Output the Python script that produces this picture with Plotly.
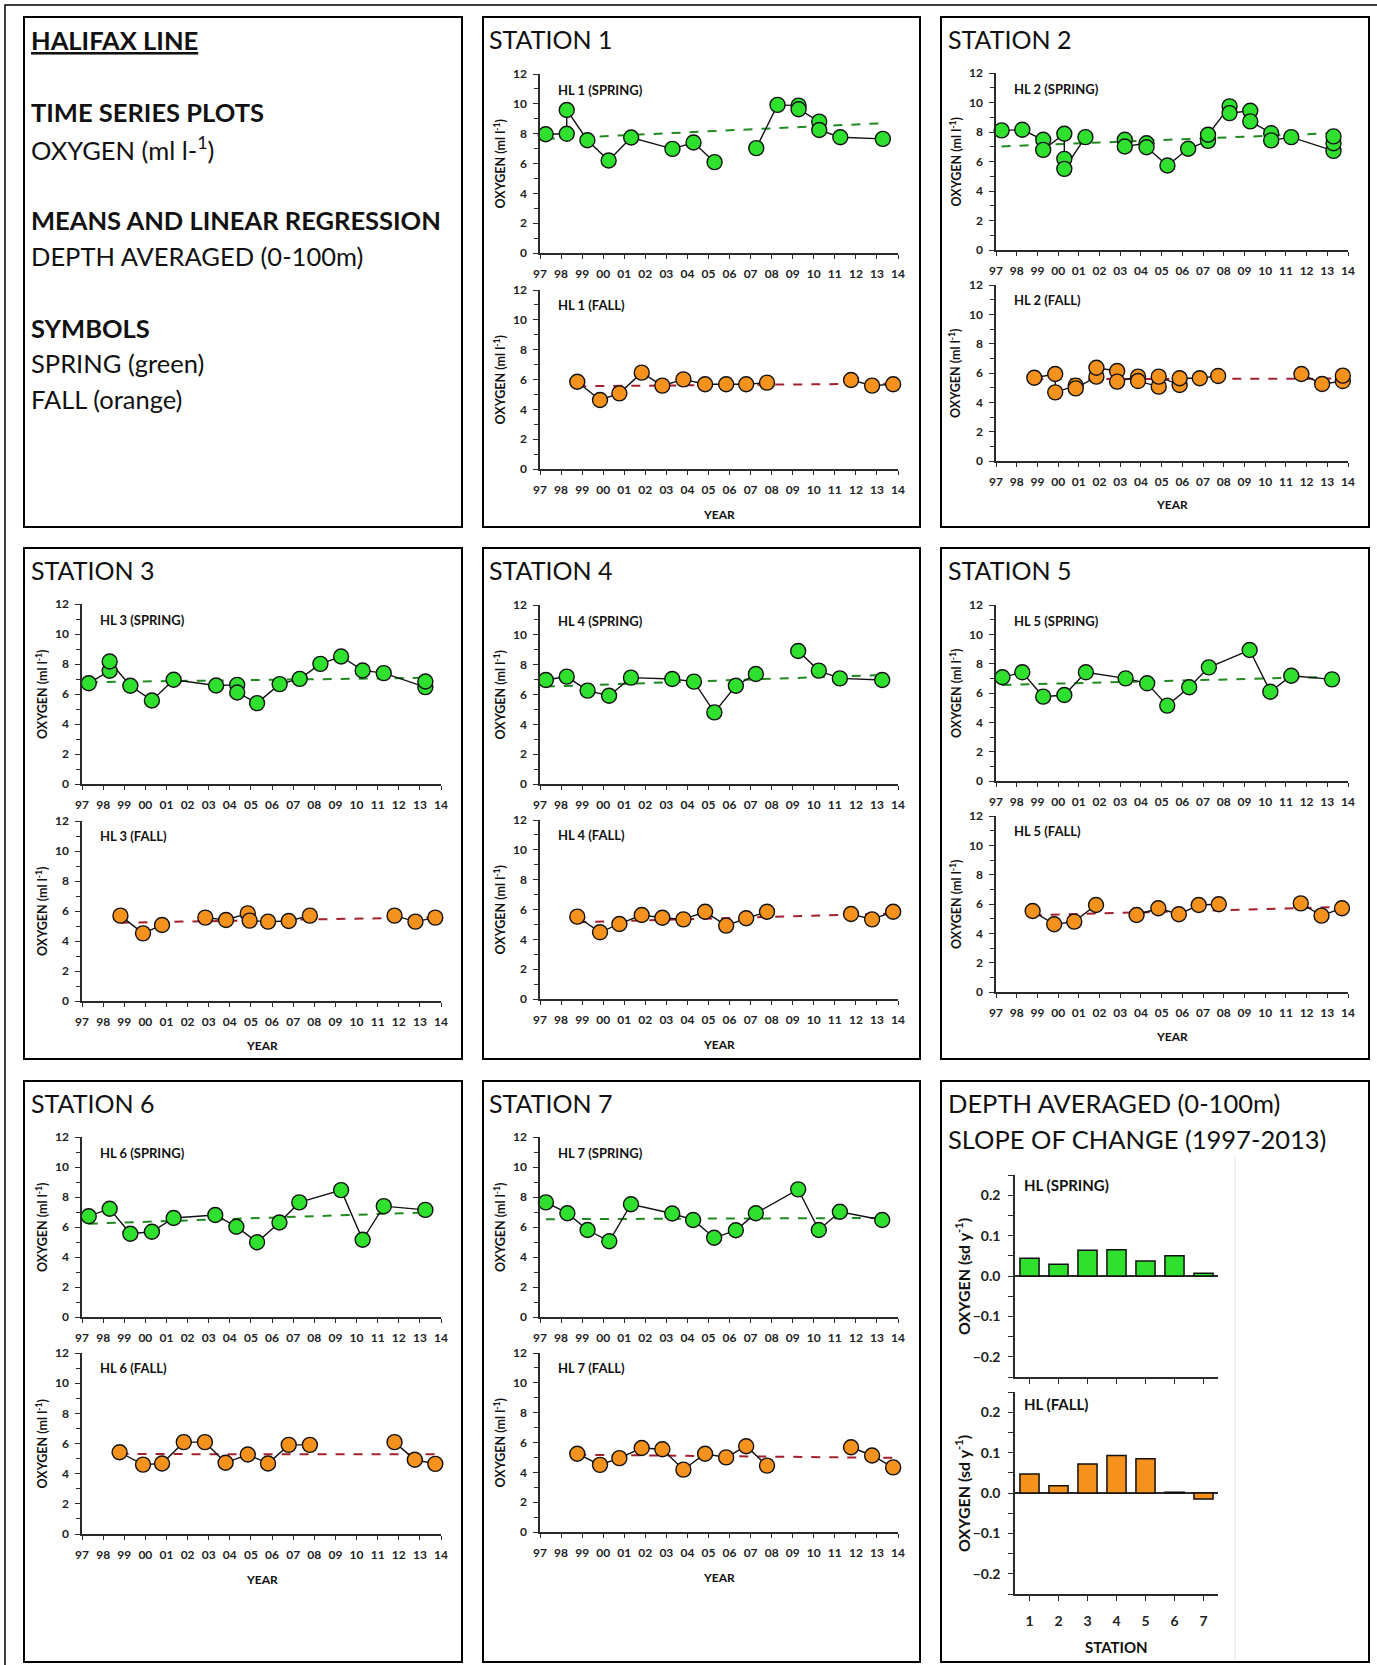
import plotly.graph_objects as go

# ---------------------------------------------------------------------------
# Halifax Line: depth-averaged (0-100 m) dissolved oxygen (ml/l), 1997-2013
# Decimal years; None marks a break in the connecting line.
# ---------------------------------------------------------------------------
year_labels = ["97", "98", "99", "00", "01", "02", "03", "04", "05",
               "06", "07", "08", "09", "10", "11", "12", "13", "14"]

# Station HL1
hl1_spring_year = [1997.27, 1998.27, 1998.27, 1999.25, 2000.26, 2001.33, 2003.29, 2004.29,
                   2005.29, None, 2007.27, 2008.28, 2009.28, 2009.28, 2010.26, 2010.26,
                   2011.26, 2013.28]
hl1_spring_o2 = [7.96, 7.99, 9.59, 7.56, 6.20, 7.74, 6.98, 7.41,
                 6.09, None, 7.03, 9.93, 9.88, 9.64, 8.81, 8.25,
                 7.76, 7.65]
hl1_spring_trend = [7.65, 8.70]
hl1_fall_year = [1998.77, 1999.85, 2000.77, 2001.83, 2002.81, 2003.81, 2004.84, 2005.84,
                 2006.79, 2007.78, None, 2011.77, 2012.77, 2013.77]
hl1_fall_o2 = [5.85, 4.63, 5.07, 6.46, 5.59, 6.01, 5.68, 5.68,
               5.68, 5.79, None, 5.97, 5.59, 5.68]
hl1_fall_trend = [5.55, 5.72]

# Station HL2
hl2_spring_year = [1997.27, 1998.27, 1999.28, 1999.28, 2000.30, 2000.30, 2000.30, 2001.32,
                   None, 2003.22, 2003.22, 2004.27, 2004.27, 2005.28, 2006.28, 2007.24,
                   2007.24, 2008.28, 2008.28, 2009.28, 2009.28, 2010.29, 2010.29, 2011.26,
                   2013.30, 2013.30, 2013.30]
hl2_spring_o2 = [8.11, 8.15, 7.47, 6.79, 7.88, 6.18, 5.50, 7.65,
                 None, 7.47, 7.02, 7.24, 6.97, 5.73, 6.86, 7.40,
                 7.81, 9.74, 9.28, 9.44, 8.72, 7.92, 7.43, 7.65,
                 6.72, 7.24, 7.70]
hl2_spring_trend = [7.02, 7.92]
hl2_fall_year = [1998.85, 1999.86, 1999.86, 2000.85, 2000.85, 2001.85, 2001.85, 2002.85,
                 2002.85, 2003.86, 2003.86, 2004.86, 2004.86, 2005.87, 2005.87, 2006.84,
                 2007.73, None, 2011.75, 2012.75, 2013.75, 2013.75]
hl2_fall_o2 = [5.68, 5.93, 4.68, 5.14, 4.95, 5.75, 6.36, 6.14,
               5.41, 5.75, 5.45, 5.07, 5.75, 5.18, 5.64, 5.64,
               5.80, None, 5.93, 5.25, 5.45, 5.82]
hl2_fall_trend = [5.58, 5.62]

# Station HL3
hl3_spring_year = [1997.32, 1998.31, 1998.31, 1999.29, 2000.31, 2001.34, 2003.35, 2004.35,
                   2004.35, 2005.29, 2006.36, 2007.31, 2008.29, 2009.27, 2010.29, 2011.29,
                   2013.26, 2013.26]
hl3_spring_o2 = [6.72, 7.55, 8.17, 6.55, 5.57, 6.95, 6.57, 6.61,
                 6.10, 5.39, 6.66, 7.01, 8.01, 8.50, 7.57, 7.39,
                 6.46, 6.83]
hl3_spring_trend = [6.79, 7.08]
hl3_fall_year = [1998.82, 1999.89, 2000.79, None, 2002.84, 2003.82, 2004.85, 2004.94,
                 2005.81, 2006.79, 2007.79, None, 2011.80, 2012.79, 2013.73]
hl3_fall_o2 = [5.69, 4.51, 5.07, None, 5.56, 5.40, 5.84, 5.36,
               5.29, 5.33, 5.69, None, 5.69, 5.29, 5.56]
hl3_fall_trend = [5.22, 5.58]

# Station HL4
hl4_spring_year = [1997.28, 1998.27, 1999.26, 2000.28, 2001.32, 2003.28, 2004.31, 2005.28,
                   2006.30, 2007.25, None, 2009.26, 2010.24, 2011.24, 2013.25]
hl4_spring_o2 = [6.97, 7.20, 6.26, 5.92, 7.13, 7.04, 6.86, 4.80,
                 6.59, 7.37, None, 8.92, 7.60, 7.08, 6.97]
hl4_spring_trend = [6.53, 7.31]
hl4_fall_year = [1998.77, 1999.85, 2000.77, 2001.83, 2002.81, 2003.81, 2004.84, 2005.84,
                 2006.79, 2007.78, None, 2011.77, 2012.77, 2013.77]
hl4_fall_o2 = [5.52, 4.47, 5.03, 5.63, 5.45, 5.34, 5.85, 4.92,
               5.41, 5.85, None, 5.70, 5.34, 5.85]
hl4_fall_trend = [5.14, 5.74]

# Station HL5
hl5_spring_year = [1997.31, 1998.27, 1999.28, 2000.30, 2001.34, 2003.26, 2004.30, 2005.27,
                   2006.33, 2007.28, 2009.25, 2010.25, 2011.26, 2013.23]
hl5_spring_o2 = [7.07, 7.41, 5.75, 5.86, 7.41, 7.00, 6.66, 5.14,
                 6.39, 7.75, 8.93, 6.09, 7.18, 6.93]
hl5_spring_trend = [6.55, 7.10]
hl5_fall_year = [1998.77, 1999.81, 2000.78, 2001.83, None, 2003.79, 2004.84, 2005.83,
                 2006.79, 2007.76, None, 2011.72, 2012.72, 2013.71]
hl5_fall_o2 = [5.52, 4.62, 4.80, 5.93, None, 5.25, 5.71, 5.30,
               5.93, 5.98, None, 6.04, 5.21, 5.71]
hl5_fall_trend = [5.23, 5.80]

# Station HL6
hl6_spring_year = [1997.32, 1998.31, 1999.29, 2000.31, 2001.34, 2003.31, 2004.31, 2005.29,
                   2006.35, 2007.29, 2009.27, 2010.29, 2011.29, 2013.26]
hl6_spring_o2 = [6.72, 7.22, 5.55, 5.68, 6.60, 6.80, 6.02, 4.98,
                 6.30, 7.64, 8.46, 5.15, 7.39, 7.14]
hl6_spring_trend = [6.22, 6.97]
hl6_fall_year = [1998.78, 1999.89, 2000.79, 2001.82, 2002.82, 2003.80, 2004.85, 2005.81,
                 2006.79, 2007.79, None, 2011.80, 2012.76, 2013.73]
hl6_fall_o2 = [5.42, 4.60, 4.67, 6.09, 6.09, 4.72, 5.27, 4.67,
               5.91, 5.91, None, 6.09, 4.92, 4.65]
hl6_fall_trend = [5.30, 5.28]

# Station HL7
hl7_spring_year = [1997.28, 1998.30, 1999.26, 2000.29, 2001.32, 2003.28, 2004.27, 2005.27,
                   2006.30, 2007.25, 2009.26, 2010.24, 2011.24, 2013.25]
hl7_spring_o2 = [7.64, 6.92, 5.80, 5.05, 7.52, 6.90, 6.47, 5.28,
                 5.78, 6.92, 8.51, 5.80, 7.02, 6.47]
hl7_spring_trend = [6.52, 6.60]
hl7_fall_year = [1998.77, 1999.85, 2000.77, 2001.83, 2002.81, 2003.81, 2004.84, 2005.84,
                 2006.79, 2007.78, None, 2011.77, 2012.77, 2013.77]
hl7_fall_o2 = [5.25, 4.50, 4.95, 5.63, 5.55, 4.18, 5.25, 5.00,
               5.75, 4.45, None, 5.68, 5.13, 4.33]
hl7_fall_trend = [5.18, 4.97]

# Slope of change (standardized, sd per year), 1997-2013
station_ids = [1, 2, 3, 4, 5, 6, 7]
spring_slope = [0.044, 0.029, 0.064, 0.065, 0.037, 0.050, 0.007]
fall_slope = [0.047, 0.018, 0.072, 0.093, 0.085, 0.002, -0.015]

# ---------------------------------------------------------------------------
# Styling and page geometry (pixels on a 1377 x 1665 page)
# ---------------------------------------------------------------------------
W, H = 1377, 1665
FONT = "Lato, 'Open Sans', 'DejaVu Sans', sans-serif"
AX = "#2a2a2a"
GREEN = "#2fe02f"
ORANGE = "#f5921e"
GREEN_TREND = "#1f8a1f"
RED_TREND = "#a3202e"
TICKFONT = dict(family=FONT, size=12, color="#222222", weight="bold")
SLOPE_TICKFONT = dict(family=FONT, size=14, color="#222222", weight="bold")

spring_series = [
    (hl1_spring_year, hl1_spring_o2, hl1_spring_trend),
    (hl2_spring_year, hl2_spring_o2, hl2_spring_trend),
    (hl3_spring_year, hl3_spring_o2, hl3_spring_trend),
    (hl4_spring_year, hl4_spring_o2, hl4_spring_trend),
    (hl5_spring_year, hl5_spring_o2, hl5_spring_trend),
    (hl6_spring_year, hl6_spring_o2, hl6_spring_trend),
    (hl7_spring_year, hl7_spring_o2, hl7_spring_trend),
]
fall_series = [
    (hl1_fall_year, hl1_fall_o2, hl1_fall_trend),
    (hl2_fall_year, hl2_fall_o2, hl2_fall_trend),
    (hl3_fall_year, hl3_fall_o2, hl3_fall_trend),
    (hl4_fall_year, hl4_fall_o2, hl4_fall_trend),
    (hl5_fall_year, hl5_fall_o2, hl5_fall_trend),
    (hl6_fall_year, hl6_fall_o2, hl6_fall_trend),
    (hl7_fall_year, hl7_fall_o2, hl7_fall_trend),
]

# Per-station plot boxes: axis x-extent, spring (top, bottom), fall (top, bottom),
# title anchor, and the y of the YEAR caption
panels = [
    dict(x0=540, x1=898, sp=(74, 253), fa=(290, 469), title=(488, 39), year_y=514),
    dict(x0=996, x1=1348, sp=(73, 250), fa=(285, 461), title=(947, 39), year_y=505),
    dict(x0=82, x1=441, sp=(604, 784), fa=(821, 1001), title=(30, 570), year_y=1045),
    dict(x0=540, x1=898, sp=(605, 784), fa=(820, 999), title=(488, 570), year_y=1044),
    dict(x0=996, x1=1348, sp=(605, 781), fa=(816, 992), title=(947, 570), year_y=1036),
    dict(x0=82, x1=441, sp=(1137, 1317), fa=(1353, 1534), title=(30, 1103), year_y=1579),
    dict(x0=540, x1=898, sp=(1137, 1317), fa=(1353, 1532), title=(488, 1103), year_y=1577),
]

fig = go.Figure()
annotations = []
shapes = []
axis_n = [0]


def add_axes(x0, x1, ytop, ybot, xopts, yopts):
    axis_n[0] += 1
    n = axis_n[0]
    sfx = "" if n == 1 else str(n)
    fig.update_layout({
        f"xaxis{sfx}": dict(domain=[x0 / W, x1 / W], anchor=f"y{sfx}", automargin=False,
                            **xopts),
        f"yaxis{sfx}": dict(domain=[1 - ybot / H, 1 - ytop / H], anchor=f"x{sfx}",
                            automargin=False, **yopts),
    })
    return f"x{sfx}", f"y{sfx}"


def text(x, y, s, size, bold=False, xanchor="left", angle=0, color="#111111"):
    annotations.append(dict(
        x=x / W, y=1 - y / H, xref="paper", yref="paper", text=s, showarrow=False,
        xanchor=xanchor, yanchor="middle", textangle=angle, borderpad=0,
        font=dict(family=FONT, size=size, color=color, weight="bold" if bold else "normal"),
    ))


def rect(x0, y0, x1, y1, width=2, color="#000000"):
    shapes.append(dict(type="rect", xref="paper", yref="paper",
                       x0=x0 / W, x1=x1 / W, y0=1 - y1 / H, y1=1 - y0 / H,
                       line=dict(color=color, width=width), fillcolor="rgba(0,0,0,0)"))


ts_x = dict(range=[1997, 2014], tickmode="array", tickvals=list(range(1997, 2015)),
            ticktext=year_labels, ticks="outside", ticklen=4, tickwidth=1.2, tickcolor=AX,
            showline=True, linecolor=AX, linewidth=1.5, showgrid=False, zeroline=False,
            tickfont=TICKFONT, ticklabelstandoff=5, fixedrange=True)
ts_y = dict(range=[0, 12], tickmode="linear", tick0=0, dtick=2, ticks="outside", ticklen=5,
            tickwidth=1.2, tickcolor=AX,
            minor=dict(dtick=1, ticks="outside", ticklen=4, tickwidth=1.2, tickcolor=AX),
            showline=True, linecolor=AX, linewidth=1.5, showgrid=False, zeroline=False,
            tickfont=TICKFONT, ticklabelstandoff=4, fixedrange=True)


def draw_series(xr, yr, years, o2, trend, fill, trend_color):
    pts = [y for y in years if y is not None]
    fig.add_trace(go.Scatter(
        x=[pts[0], pts[-1]], y=trend, xaxis=xr, yaxis=yr, mode="lines",
        line=dict(color=trend_color, width=2, dash="dash"), hoverinfo="skip",
        showlegend=False))
    fig.add_trace(go.Scatter(
        x=years, y=o2, xaxis=xr, yaxis=yr, mode="lines+markers", connectgaps=False,
        line=dict(color="#111111", width=1.4),
        marker=dict(size=15, color=fill, line=dict(color="#111111", width=1.4)),
        cliponaxis=False, showlegend=False))


Y_TITLE = "OXYGEN (ml l<sup>-1</sup>)"

for i, p in enumerate(panels):
    st = i + 1
    # spring
    xr, yr = add_axes(p["x0"], p["x1"], p["sp"][0], p["sp"][1], ts_x, ts_y)
    yrs, vals, tr = spring_series[i]
    draw_series(xr, yr, yrs, vals, tr, GREEN, GREEN_TREND)
    # fall
    xr, yr = add_axes(p["x0"], p["x1"], p["fa"][0], p["fa"][1], ts_x, ts_y)
    yrs, vals, tr = fall_series[i]
    draw_series(xr, yr, yrs, vals, tr, ORANGE, RED_TREND)

    text(p["title"][0], p["title"][1], f"STATION {st}", 25)
    text(p["x0"] + 17, p["sp"][0] + 16, f"HL {st} (SPRING)", 13, bold=True)
    text(p["x0"] + 17, p["fa"][0] + 15, f"HL {st} (FALL)", 13, bold=True)
    for top, bot in (p["sp"], p["fa"]):
        text(p["x0"] - 41, (top + bot) / 2, Y_TITLE, 12.5, bold=True,
             xanchor="center", angle=-90)
    text((p["x0"] + p["x1"]) / 2, p["year_y"], "YEAR", 12, bold=True, xanchor="center")

# ---- slope-of-change bar charts ----
sl_x = dict(range=[0.5, 7.5], tickmode="array", tickvals=station_ids, ticks="outside",
            ticklen=5, tickwidth=1.2, tickcolor=AX, showline=True, linecolor=AX,
            linewidth=1.5, showgrid=False, zeroline=False, tickfont=SLOPE_TICKFONT,
            ticklabelstandoff=8, fixedrange=True)
sl_y = dict(range=[-0.25, 0.25], tickmode="linear", tick0=0, dtick=0.1, tickformat=".1f",
            ticks="outside", ticklen=5, tickwidth=1.2, tickcolor=AX,
            minor=dict(dtick=0.05, ticks="outside", ticklen=5, tickwidth=1.2, tickcolor=AX),
            showline=True, linecolor=AX, linewidth=1.5, showgrid=False,
            zeroline=True, zerolinecolor=AX, zerolinewidth=1.5,
            tickfont=SLOPE_TICKFONT, ticklabelstandoff=5, fixedrange=True)

xr, yr = add_axes(1015, 1218, 1175, 1377, dict(sl_x, showticklabels=False), sl_y)
fig.add_trace(go.Bar(x=station_ids, y=spring_slope, xaxis=xr, yaxis=yr, width=0.66,
                     marker=dict(color=GREEN, line=dict(color="#111111", width=1.5)),
                     showlegend=False))
xr, yr = add_axes(1015, 1218, 1392, 1594, sl_x, sl_y)
fig.add_trace(go.Bar(x=station_ids, y=fall_slope, xaxis=xr, yaxis=yr, width=0.66,
                     marker=dict(color=ORANGE, line=dict(color="#111111", width=1.5)),
                     showlegend=False))

text(1023, 1185, "HL (SPRING)", 15, bold=True)
text(1023, 1404, "HL (FALL)", 15, bold=True)
text(962, 1276, "OXYGEN (sd y<sup>-1</sup>)", 16, bold=True, xanchor="center", angle=-90)
text(962, 1493, "OXYGEN (sd y<sup>-1</sup>)", 16, bold=True, xanchor="center", angle=-90)
text(1116, 1647, "STATION", 15, bold=True, xanchor="center")
text(947, 1103, "DEPTH AVERAGED (0-100m)", 25.5)
text(947, 1139, "SLOPE OF CHANGE (1997-2013)", 25.5)
shapes.append(dict(type="line", xref="paper", yref="paper",
                   x0=1235 / W, x1=1235 / W, y0=1 - 1660 / H, y1=1 - 1157 / H,
                   line=dict(color="#e4e4e4", width=1)))

# ---- description panel ----
text(30, 40, "<u>HALIFAX LINE</u>", 25.5, bold=True)
text(30, 112.5, "TIME SERIES PLOTS", 25.5, bold=True)
text(30, 148.5, "OXYGEN (ml l-<sup>1</sup>)", 25.5)
text(30, 220, "MEANS AND LINEAR REGRESSION", 25.5, bold=True)
text(30, 256, "DEPTH AVERAGED (0-100m)", 25.5)
text(30, 328, "SYMBOLS", 25.5, bold=True)
text(30, 363, "SPRING (green)", 25.5)
text(30, 399, "FALL (orange)", 25.5)

# ---- panel frames ----
rect(5, 5, 1390, 1680, width=1.5)
for (x0, x1) in ((24, 462), (483, 920), (941, 1369)):
    rect(x0, 17, x1, 527)
    rect(x0, 548, x1, 1059)
    rect(x0, 1081, x1, 1662)

fig.update_layout(
    width=W, height=H, margin=dict(l=0, r=0, t=0, b=0, pad=0, autoexpand=False),
    paper_bgcolor="white", plot_bgcolor="rgba(0,0,0,0)",
    showlegend=False, annotations=annotations, shapes=shapes,
    font=dict(family=FONT, color="#111111"),
)

# the page itself carries no margin, so the figure fills the window exactly
fig.write_html("out.html", config={"displayModeBar": False},
               post_script="document.documentElement.style.margin='0';"
                           "document.body.style.margin='0';"
                           "document.body.style.padding='0';")
